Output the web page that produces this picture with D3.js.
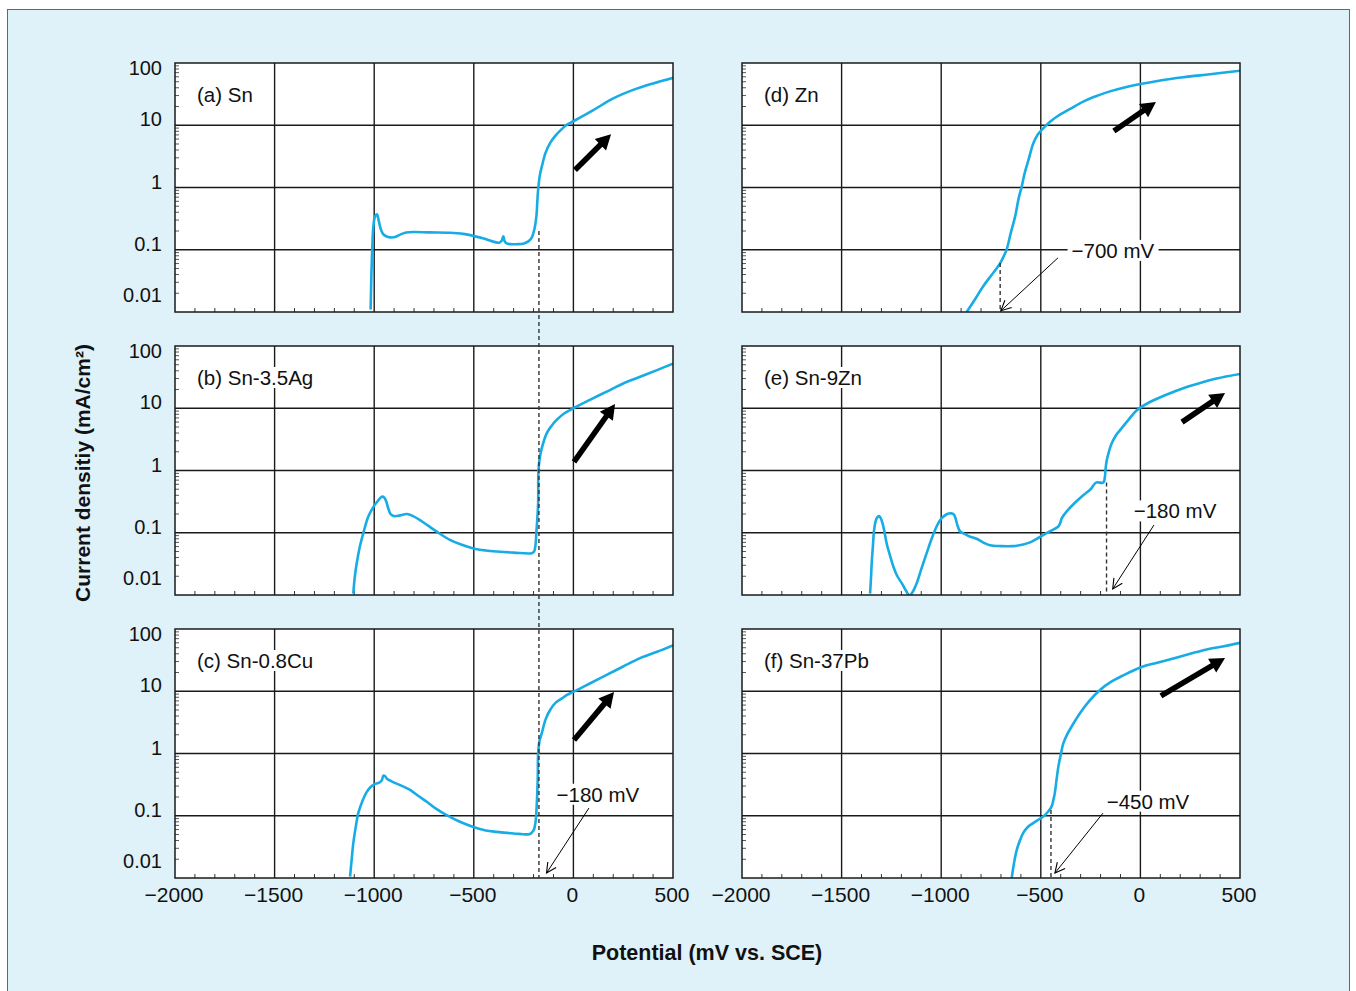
<!doctype html>
<html lang="en">
<head>
  <meta charset="UTF-8">
  <title>Polarization curves</title>
  <style>
    html, body { margin: 0; padding: 0; background: #fff; }
    svg { display: block; font-family: "Liberation Sans", Arial, sans-serif; }
  </style>
</head>
<body>
<div id="app"></div>
<script src="https://cdn.jsdelivr.net/npm/d3@7"></script>
<script>
  // ---- data (potential in mV vs. SCE, current density in mA/cm2) ----
  var potentialTicks = [-2000, -1500, -1000, -500, 0, 500];
  var currentTicks = [0.01, 0.1, 1, 10, 100];
  var currentTickLabels = ['0.01', '0.1', '1', '10', '100'];
  var potentialTickLabels = ['\u22122000', '\u22121500', '\u22121000', '\u2212500', '0', '500'];
  var panelNames = ['(a) Sn', '(b) Sn-3.5Ag', '(c) Sn-0.8Cu', '(d) Zn', '(e) Sn-9Zn', '(f) Sn-37Pb'];

  var curveSn = [
    [-1018, 0.011], [-1014, 0.04], [-1010, 0.1], [-1004, 0.24], [-996, 0.34], [-986, 0.37], [-978, 0.3],
    [-968, 0.22], [-956, 0.18], [-940, 0.165], [-920, 0.158], [-895, 0.16], [-870, 0.175], [-840, 0.19],
    [-800, 0.193], [-720, 0.19], [-620, 0.188], [-553, 0.18], [-460, 0.155], [-372, 0.13], [-360, 0.14],
    [-352, 0.165], [-344, 0.135], [-330, 0.125], [-280, 0.123], [-252, 0.125], [-228, 0.135], [-210, 0.155],
    [-195, 0.22], [-186, 0.34], [-178, 0.85], [-168, 1.6], [-158, 2.2], [-140, 3.6], [-115, 5.3], [-92, 6.7],
    [-60, 8.6], [-30, 10.3], [0, 11.6], [100, 17.5], [200, 27], [300, 37], [400, 47], [502, 58]
  ];
  var curveSnAg = [
    [-1105, 0.0105], [-1097, 0.02], [-1088, 0.032], [-1072, 0.06], [-1055, 0.098], [-1030, 0.18], [-1004, 0.26],
    [-980, 0.33], [-962, 0.38], [-950, 0.37], [-940, 0.32], [-930, 0.25], [-918, 0.2], [-900, 0.185],
    [-870, 0.19], [-835, 0.2], [-805, 0.185], [-770, 0.16], [-730, 0.13], [-686, 0.104], [-620, 0.077],
    [-560, 0.064], [-502, 0.056], [-440, 0.052], [-385, 0.05], [-300, 0.048], [-209, 0.047], [-197, 0.05],
    [-190, 0.065], [-186, 0.1], [-177, 0.3], [-176, 0.9], [-170, 1.5], [-160, 2.2], [-134, 3.95], [-110, 5.2],
    [-84, 6.5], [-45, 8.3], [0, 10], [80, 13.5], [167, 18.5], [250, 25], [335, 32], [420, 41], [502, 52.5]
  ];
  var curveSnCu = [
    [-1121, 0.0105], [-1113, 0.02], [-1105, 0.036], [-1093, 0.065], [-1080, 0.11], [-1060, 0.17], [-1038, 0.24],
    [-1018, 0.29], [-1000, 0.32], [-975, 0.34], [-962, 0.37], [-954, 0.44], [-945, 0.43], [-935, 0.39],
    [-915, 0.36], [-870, 0.31], [-820, 0.26], [-780, 0.21], [-736, 0.168], [-690, 0.13], [-636, 0.102],
    [-570, 0.08], [-502, 0.066], [-440, 0.058], [-385, 0.055], [-300, 0.052], [-218, 0.051], [-200, 0.058],
    [-190, 0.08], [-185, 0.13], [-179, 0.4], [-177, 1.0], [-170, 1.6], [-159, 2.1], [-140, 3.5], [-117, 5],
    [-90, 6.5], [-59, 7.6], [-30, 8.8], [0, 9.8], [80, 13.2], [167, 18.3], [250, 25], [335, 34], [420, 43], [502, 55]
  ];
  var curveZn = [
    [-872, 0.01], [-830, 0.016], [-789, 0.026], [-745, 0.04], [-705, 0.06], [-685, 0.08], [-671, 0.102],
    [-650, 0.19], [-629, 0.34], [-612, 0.65], [-596, 1.03], [-580, 1.75], [-560, 2.9], [-538, 5.1], [-515, 7.1],
    [-488, 8.9], [-455, 11.3], [-420, 13.7], [-350, 18.5], [-287, 24], [-220, 29.5], [-153, 35], [-80, 40.5],
    [0, 46], [100, 52.5], [215, 59], [350, 66], [500, 75]
  ];
  var curveSnZn = [
    [-1357, 0.0105], [-1352, 0.02], [-1349, 0.032], [-1343, 0.06], [-1337, 0.11], [-1330, 0.15], [-1322, 0.175],
    [-1312, 0.185], [-1303, 0.17], [-1294, 0.14], [-1284, 0.1], [-1274, 0.068], [-1257, 0.043], [-1240, 0.0285],
    [-1220, 0.02], [-1198, 0.0155], [-1175, 0.0115], [-1160, 0.0098], [-1145, 0.011], [-1123, 0.0155],
    [-1100, 0.026], [-1073, 0.047], [-1048, 0.08], [-1023, 0.126], [-1005, 0.16], [-990, 0.18], [-970, 0.2],
    [-950, 0.205], [-936, 0.195], [-928, 0.17], [-918, 0.13], [-905, 0.105], [-880, 0.095], [-857, 0.087],
    [-822, 0.08], [-790, 0.07], [-755, 0.063], [-700, 0.061], [-640, 0.061], [-588, 0.065], [-554, 0.07],
    [-520, 0.08], [-488, 0.092], [-450, 0.107], [-412, 0.126], [-402, 0.145], [-395, 0.17], [-370, 0.22],
    [-330, 0.3], [-287, 0.4], [-250, 0.5], [-223, 0.64], [-186, 0.64], [-178, 0.8], [-175, 1.05], [-170, 1.4],
    [-160, 1.9], [-145, 2.7], [-120, 3.8], [-102, 4.45], [-60, 6.5], [-18, 9.3], [48, 12.6], [130, 16.5],
    [215, 21], [300, 25.5], [383, 30], [500, 35.5]
  ];
  var curveSnPb = [
    [-646, 0.01], [-635, 0.017], [-621, 0.028], [-605, 0.04], [-588, 0.053], [-565, 0.066], [-538, 0.076],
    [-510, 0.087], [-488, 0.097], [-465, 0.115], [-446, 0.14], [-435, 0.19], [-429, 0.24], [-420, 0.4],
    [-412, 0.61], [-400, 0.95], [-387, 1.45], [-365, 2.1], [-337, 3.0], [-300, 4.6], [-253, 7.2], [-203, 10.5],
    [-150, 14], [-86, 18], [6, 24.5], [80, 28.5], [165, 33.6], [250, 40], [333, 47], [420, 53], [500, 60]
  ];

  // scan direction arrows: [tail, tip]
  var scanArrows = [
    [[8, 1.91], [189, 7.2]],
    [[3, 1.37], [209, 11.7]],
    [[3, 1.65], [204, 9.7]],
    [[-133, 8.1], [78, 23.6]],
    [[209, 6.0], [425, 17.6]],
    [[103, 8.4], [425, 34.2]]
  ];
  // corrosion potential callouts: panel index, text, text anchor, arrow from, arrow to
  var callouts = [
    {panel: 2, text: '\u2212180 mV', at: [123, 0.168], from: [78, 0.133], to: [-135, 0.012]},
    {panel: 3, text: '\u2212700 mV', at: [-138, 0.074], from: [-414, 0.074], to: [-700, 0.0105]},
    {panel: 4, text: '\u2212180 mV', at: [174, 0.17], from: [68, 0.133], to: [-139, 0.0125]},
    {panel: 5, text: '\u2212450 mV', at: [38, 0.13], from: [-188, 0.11], to: [-429, 0.012]}
  ];
  // dashed drop lines: potential, start current, first panel, last panel
  var dropLines = [
    {mV: -173, from: 0.2, first: 0, last: 2},
    {mV: -704, from: 0.061, first: 3, last: 3},
    {mV: -170, from: 0.64, first: 4, last: 4},
    {mV: -449, from: 0.124, first: 5, last: 5}
  ];

  var curves = [curveSn, curveSnAg, curveSnCu, curveZn, curveSnZn, curveSnPb];

  // ---- layout ----
  var width = 1356, height = 991;
  var panelW = 498, panelH = 249;
  var colX = [175, 742], rowY = [63, 346, 629];
  var blue = '#17ace6';

  var svg = d3.select('#app').append('svg').attr('width', width).attr('height', height);

  svg.append('rect').attr('width', width).attr('height', height).attr('fill', '#fff');
  svg.append('rect')
    .attr('x', 7.5).attr('y', 9.5).attr('width', 1342).attr('height', 995)
    .attr('fill', '#dff1f9').attr('stroke', '#666').attr('stroke-width', 1);

  var defs = svg.append('defs');
  defs.append('marker')
    .attr('id', 'open-head')
    .attr('viewBox', '0 0 12 12')
    .attr('refX', 11).attr('refY', 6)
    .attr('markerWidth', 12).attr('markerHeight', 12)
    .attr('markerUnits', 'userSpaceOnUse')
    .attr('orient', 'auto')
    .append('path')
    .attr('d', 'M1,1 L11,6 L1,11')
    .attr('fill', 'none').attr('stroke', '#000').attr('stroke-width', 1.1);

  var x = d3.scaleLinear().domain([-2000, 500]).range([0, panelW]);
  var y = d3.scaleLog().domain([0.01, 100]).range([panelH, 0]);

  function panelOrigin(i) {
    return [colX[Math.floor(i / 3)], rowY[i % 3]];
  }

  // white box behind a text node, inserted just before it
  function textBox(g, t, padX) {
    var bb = t.node().getBBox();
    g.insert('rect', function() { return t.node(); })
      .attr('x', bb.x - padX).attr('y', bb.y + 1)
      .attr('width', bb.width + 2 * padX).attr('height', bb.height - 2)
      .attr('fill', '#fff');
  }

  var line = d3.line()
    .x(d => x(d[0]))
    .y(d => y(d[1]))
    .curve(d3.curveCatmullRom.alpha(0.5));

  var minorY = y.ticks().filter(v => Math.abs(Math.log10(v) - Math.round(Math.log10(v))) > 1e-6);
  var minorX = d3.range(-1900, 500, 100).filter(v => v % 500 !== 0);

  var panelGroups = [];

  curves.forEach(function(data, i) {
    var o = panelOrigin(i);
    var g = svg.append('g').attr('transform', 'translate(' + o[0] + ',' + o[1] + ')');
    panelGroups.push(g);

    g.append('rect').attr('width', panelW).attr('height', panelH).attr('fill', '#fff');

    g.append('clipPath').attr('id', 'clip' + i)
      .append('rect').attr('width', panelW).attr('height', panelH);

    g.selectAll('line.vgrid')
      .data(potentialTicks.slice(1, -1))
      .enter().append('line')
      .attr('class', 'vgrid')
      .attr('x1', d => x(d)).attr('x2', d => x(d))
      .attr('y1', 0).attr('y2', panelH)
      .attr('stroke', '#1a1a1a').attr('stroke-width', 1.4);

    g.selectAll('line.hgrid')
      .data(currentTicks.slice(1, -1))
      .enter().append('line')
      .attr('class', 'hgrid')
      .attr('x1', 0).attr('x2', panelW)
      .attr('y1', d => y(d)).attr('y2', d => y(d))
      .attr('stroke', '#1a1a1a').attr('stroke-width', 1.4);

    g.selectAll('line.ytick')
      .data(minorY)
      .enter().append('line')
      .attr('class', 'ytick')
      .attr('x1', 0).attr('x2', 4)
      .attr('y1', d => y(d)).attr('y2', d => y(d))
      .attr('stroke', '#444').attr('stroke-width', 0.9);

    g.selectAll('line.xtick')
      .data(minorX)
      .enter().append('line')
      .attr('class', 'xtick')
      .attr('x1', d => x(d)).attr('x2', d => x(d))
      .attr('y1', panelH).attr('y2', panelH - 4)
      .attr('stroke', '#333').attr('stroke-width', 1);

    var lab = g.append('text')
      .attr('x', 22).attr('y', 39)
      .attr('font-size', 20.5).attr('fill', '#111')
      .text(panelNames[i]);
    textBox(g, lab, 2);

    g.append('path')
      .datum(data)
      .attr('d', line)
      .attr('clip-path', 'url(#clip' + i + ')')
      .attr('fill', 'none')
      .attr('stroke', blue).attr('stroke-width', 2.6)
      .attr('stroke-linejoin', 'round');

    g.append('rect').attr('width', panelW).attr('height', panelH)
      .attr('fill', 'none').attr('stroke', '#1a1a1a').attr('stroke-width', 1.5);

    // thick scan-direction arrow
    var a = scanArrows[i];
    var x1 = x(a[0][0]), y1 = y(a[0][1]), x2 = x(a[1][0]), y2 = y(a[1][1]);
    var ang = Math.atan2(y2 - y1, x2 - x1);
    var len = Math.hypot(x2 - x1, y2 - y1);
    var shaft = 2.8, headW = 8, headL = 15;
    var pts = [
      [0, -shaft], [len - headL, -shaft], [len - headL, -headW], [len, 0],
      [len - headL, headW], [len - headL, shaft], [0, shaft]
    ];
    g.append('polygon')
      .attr('points', pts.map(p => [
        x1 + p[0] * Math.cos(ang) - p[1] * Math.sin(ang),
        y1 + p[0] * Math.sin(ang) + p[1] * Math.cos(ang)
      ].join(',')).join(' '))
      .attr('fill', '#000');

    // y tick labels on left column
    if (i < 3) {
      g.selectAll('text.ylab')
        .data(currentTicks)
        .enter().append('text')
        .attr('class', 'ylab')
        .attr('x', -13)
        .attr('y', function(d, k) {
          var shift = k === 0 ? -17 : (k === currentTicks.length - 1 ? 5 : -6);
          return y(d) + shift + 7;
        })
        .attr('text-anchor', 'end')
        .attr('font-size', 20).attr('fill', '#111')
        .text((d, k) => currentTickLabels[k]);
    }
    // x tick labels on bottom row
    if (i % 3 === 2) {
      g.selectAll('text.xlab')
        .data(potentialTicks)
        .enter().append('text')
        .attr('class', 'xlab')
        .attr('x', d => x(d) - 1)
        .attr('y', panelH + 24)
        .attr('text-anchor', 'middle')
        .attr('font-size', 21).attr('fill', '#111')
        .text((d, k) => potentialTickLabels[k]);
    }
  });

  // dashed drop lines (may span several panels)
  dropLines.forEach(function(d) {
    var o1 = panelOrigin(d.first), o2 = panelOrigin(d.last);
    svg.append('line')
      .attr('x1', o1[0] + x(d.mV)).attr('x2', o1[0] + x(d.mV))
      .attr('y1', o1[1] + y(d.from)).attr('y2', o2[1] + panelH)
      .attr('stroke', '#333').attr('stroke-width', 1.4)
      .attr('stroke-dasharray', '4,3');
  });

  // callout labels with arrows
  callouts.forEach(function(c) {
    var g = panelGroups[c.panel];
    var t = g.append('text')
      .attr('x', x(c.at[0])).attr('y', y(c.at[1]))
      .attr('text-anchor', 'middle')
      .attr('font-size', 20.5).attr('fill', '#111')
      .text(c.text);
    textBox(g, t, 4);
    g.append('line')
      .attr('x1', x(c.from[0])).attr('y1', y(c.from[1]))
      .attr('x2', x(c.to[0])).attr('y2', y(c.to[1]))
      .attr('stroke', '#000').attr('stroke-width', 1)
      .attr('marker-end', 'url(#open-head)');
  });

  // axis titles
  svg.append('text')
    .attr('transform', 'translate(90,473) rotate(-90)')
    .attr('text-anchor', 'middle')
    .attr('font-size', 21).attr('font-weight', 'bold').attr('fill', '#111')
    .text('Current densitiy (mA/cm\u00B2)');

  svg.append('text')
    .attr('x', 707).attr('y', 960)
    .attr('text-anchor', 'middle')
    .attr('font-size', 21.5).attr('font-weight', 'bold').attr('fill', '#111')
    .text('Potential (mV vs. SCE)');
</script>
</body>
</html>
